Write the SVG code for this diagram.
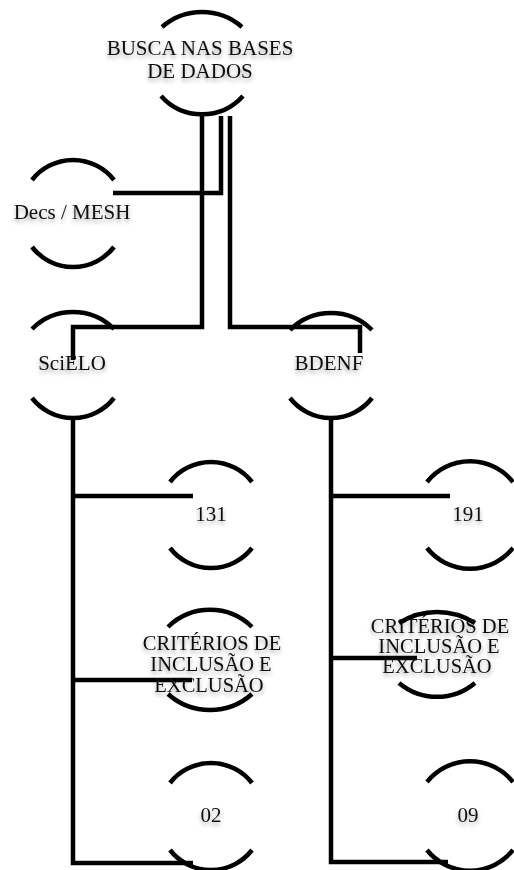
<svg xmlns="http://www.w3.org/2000/svg" width="514" height="870" viewBox="0 0 514 870">
  <defs>
    <filter id="sh" x="-20%" y="-40%" width="140%" height="200%">
      <feDropShadow dx="0" dy="3" stdDeviation="2" flood-color="#000" flood-opacity="0.35"/>
    </filter>
    <style>
      .arc { fill: none; stroke: #000; stroke-width: 4.5; stroke-linecap: butt; }
      .con { fill: none; stroke: #000; stroke-width: 4.5; stroke-linejoin: miter; stroke-linecap: butt; }
      .lbl { font-family: "Liberation Serif", "Times New Roman", serif; font-size: 21px; fill: #111; text-anchor: middle; filter: url(#sh); }
      .sm { font-size: 20.5px; }
    </style>
  </defs>
  <rect width="514" height="870" fill="#fff"/>

  <g id="connectors">
    <path class="con" d="M221,116 V193 H113"/>
    <path class="con" d="M202,116 V327 H73 V360"/>
    <path class="con" d="M230,116 V327 H360 V353"/>
    <path class="con" d="M73,418 V863 H193"/>
    <path class="con" d="M73,496 H193"/>
    <path class="con" d="M73,680 H192"/>
    <path class="con" d="M331,418 V862 H448"/>
    <path class="con" d="M331,496 H450"/>
    <path class="con" d="M331,658 H417"/>
  </g>

  <g id="node-busca">
    <path class="arc" d="M162,27 A61,61 0 0 1 242,27"/>
    <path class="arc" d="M161,96 A55,55 0 0 0 243,96"/>
    <text class="lbl" x="200" y="55">BUSCA NAS BASES</text>
    <text class="lbl" x="200" y="78">DE DADOS</text>
  </g>

  <g id="node-decs">
    <path class="arc" d="M32,180 A52,52 0 0 1 114,180"/>
    <path class="arc" d="M32,247 A52,52 0 0 0 114,247"/>
    <text class="lbl" x="72" y="219">Decs / MESH</text>
  </g>

  <g id="node-scielo">
    <path class="arc" d="M32,329 A58,58 0 0 1 114,329"/>
    <path class="arc" d="M32,398 A52,52 0 0 0 114,398"/>
    <text class="lbl" x="72" y="370">SciELO</text>
  </g>

  <g id="node-bdenf">
    <path class="arc" d="M290,330 A58,58 0 0 1 372,330"/>
    <path class="arc" d="M290,398 A52,52 0 0 0 372,398"/>
    <text class="lbl" x="329" y="370">BDENF</text>
  </g>

  <g id="node-131">
    <path class="arc" d="M170,482 A52,52 0 0 1 252,482"/>
    <path class="arc" d="M170,548 A52,52 0 0 0 252,548"/>
    <text class="lbl" x="211" y="521">131</text>
  </g>

  <g id="node-191">
    <path class="arc" d="M427,482 A55,55 0 0 1 513,482"/>
    <path class="arc" d="M427,548 A55,55 0 0 0 513,548"/>
    <text class="lbl" x="468" y="521">191</text>
  </g>

  <g id="node-criterios-scielo">
    <path class="arc" d="M168,627 A60,60 0 0 1 252,627"/>
    <path class="arc" d="M168,694 A63,63 0 0 0 252,694"/>
    <text class="lbl sm" x="212" y="650">CRITÉRIOS DE</text>
    <text class="lbl sm" x="211" y="671">INCLUSÃO E</text>
    <text class="lbl sm" x="209" y="692">EXCLUSÃO</text>
  </g>

  <g id="node-criterios-bdenf">
    <path class="arc" d="M399,623 A71,71 0 0 1 475,623"/>
    <path class="arc" d="M399,683 A59,59 0 0 0 475,683"/>
    <text class="lbl sm" x="440" y="633">CRITÉRIOS DE</text>
    <text class="lbl sm" x="439" y="653">INCLUSÃO E</text>
    <text class="lbl sm" x="437" y="673">EXCLUSÃO</text>
  </g>

  <g id="node-02">
    <path class="arc" d="M170,783 A52,52 0 0 1 252,783"/>
    <path class="arc" d="M170,850 A52,52 0 0 0 252,850"/>
    <text class="lbl" x="211" y="822">02</text>
  </g>

  <g id="node-09">
    <path class="arc" d="M427,782 A55,55 0 0 1 513,782"/>
    <path class="arc" d="M427,850 A55,55 0 0 0 513,850"/>
    <text class="lbl" x="468" y="822">09</text>
  </g>
</svg>
